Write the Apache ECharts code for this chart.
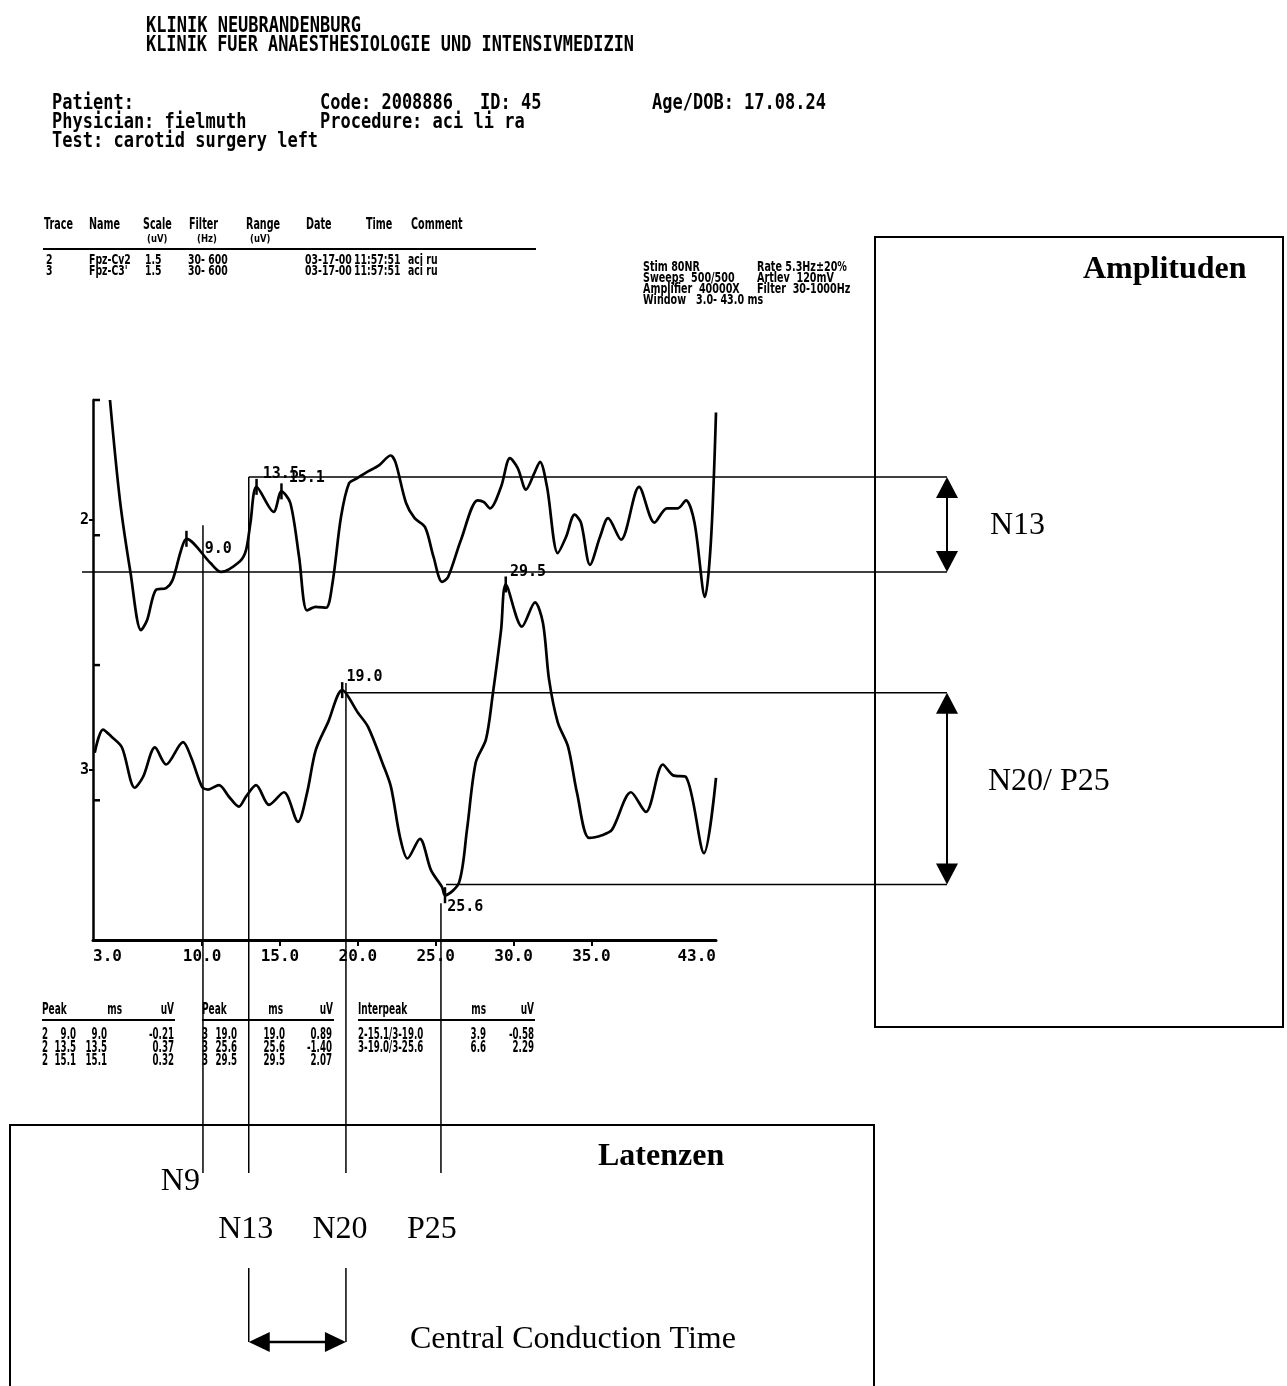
<!DOCTYPE html>
<html>
<head>
<meta charset="utf-8">
<script src="https://cdn.jsdelivr.net/npm/echarts@6/dist/echarts.min.js"></script>
<style>
  html, body { margin: 0; padding: 0; background: #fff; }
  #c { width: 1287px; height: 1386px; }
</style>
</head>
<body>
<div id="c"></div>
<script>
// ---- SEP traces (latency in ms, amplitude in uV relative to trace baseline) ----
const trace2Ms = [4.09, 4.73, 5.41, 6.08, 6.47, 7.04, 7.69, 8.11, 8.65, 9.0, 10.54, 11.22, 12.44, 12.82, 13.11, 13.5, 14.6, 15.1, 15.67, 16.23, 16.74, 17.3, 17.96, 18.38, 18.92, 19.44, 20.0, 20.53, 21.36, 22.11, 22.43, 23.1, 23.65, 24.32, 24.86, 25.41, 25.79, 26.63, 27.7, 28.1, 28.49, 29.2, 29.77, 30.27, 30.8, 31.35, 31.7, 32.15, 32.84, 33.37, 33.92, 34.33, 34.91, 35.55, 36.07, 36.9, 38.06, 39.05, 39.85, 40.54, 41.07, 41.62, 42.29, 42.68, 43.0];
const trace2Uv = [1.34, 0.22, -0.59, -1.23, -1.12, -0.78, -0.76, -0.67, -0.34, -0.21, -0.48, -0.58, -0.46, -0.34, -0.03, 0.37, 0.09, 0.32, 0.19, -0.41, -1.01, -0.97, -0.98, -0.70, 0.03, 0.41, 0.47, 0.53, 0.61, 0.72, 0.64, 0.19, 0.02, -0.08, -0.41, -0.69, -0.64, -0.22, 0.22, 0.20, 0.13, 0.37, 0.69, 0.58, 0.34, 0.53, 0.65, 0.37, -0.37, -0.19, 0.06, -0.03, -0.50, -0.19, 0.02, -0.22, 0.37, -0.03, 0.13, 0.13, 0.22, -0.03, -0.86, -0.22, 1.20];

const trace3Ms = [3.11, 3.64, 4.19, 4.86, 5.68, 6.21, 6.98, 7.69, 8.78, 9.32, 10.0, 10.38, 11.09, 11.73, 12.37, 12.82, 13.47, 14.3, 15.26, 16.16, 16.74, 17.3, 18.09, 19.0, 20.0, 20.66, 21.62, 22.13, 22.71, 23.19, 23.99, 24.7, 25.41, 25.6, 26.5, 27.01, 27.57, 28.23, 28.65, 29.2, 29.5, 30.54, 31.38, 31.89, 32.28, 32.84, 33.5, 34.08, 34.85, 35.68, 36.32, 37.54, 38.5, 39.59, 40.23, 41.07, 42.23, 43.0];
const trace3Uv = [0.19, 0.45, 0.37, 0.25, -0.20, -0.08, 0.25, 0.06, 0.31, 0.13, -0.19, -0.22, -0.17, -0.30, -0.41, -0.30, -0.17, -0.39, -0.25, -0.58, -0.26, 0.22, 0.53, 0.89, 0.64, 0.48, 0.06, -0.19, -0.75, -0.99, -0.77, -1.12, -1.31, -1.40, -1.26, -0.67, 0.08, 0.34, 0.82, 1.56, 2.07, 1.60, 1.87, 1.64, 1.01, 0.53, 0.26, -0.26, -0.76, -0.73, -0.67, -0.25, -0.47, 0.06, -0.06, -0.08, -0.93, -0.09];

// ---- marked peaks ----
const peakTrace = [2, 2, 2, 3, 3, 3];
const peakMs    = [9.0, 13.5, 15.1, 19.0, 25.6, 29.5];
const peakUv    = [-0.21, 0.37, 0.32, 0.89, -1.40, 2.07];

// ---- interpeak results ----
const interpeakNames = ['2-15.1/3-19.0', '3-19.0/3-25.6'];
const interpeakMs    = [3.9, 6.6];
const interpeakUv    = [-0.58, 2.29];

// ---- axis ticks ----
const xTickLabels = [3.0, 10.0, 15.0, 20.0, 25.0, 30.0, 35.0, 43.0];
const xTickMarks  = [10.0, 15.0, 20.0, 25.0, 30.0, 35.0];
const scaleMarks2 = [1.34, -0.17];   // 1.5 uV scale marks, trace 2
const scaleMarks3 = [1.17, -0.34];   // 1.5 uV scale marks, trace 3

// ---- hand annotations ----
const latencyNames = ['N9', 'N13', 'N20', 'P25'];
const latencyMs    = [10.06, 13.0, 19.24, 25.34];
const latencyTrace = [2, 2, 3, 3];
const latencyTopUv = [-0.06, 0.48, 0.97, -1.49];
const bandNames    = ['N13', 'N20/ P25'];
const bandTrace    = [2, 3];
const bandTopUv    = [0.48, 0.86];
const bandBottomUv = [-0.58, -1.28];
const bandTopMs    = [13.0, 19.24];
const bandBottomMs = [null, 25.67];

// ---- record header ----
const trHeader = ['Trace', 'Name', 'Scale', 'Filter', 'Range', 'Date', 'Time', 'Comment'];
const trUnits  = ['', '', '(uV)', '(Hz)', '(uV)', '', '', ''];
const trRows = [
  ['2', 'Fpz-Cv2', '1.5', '30- 600', '', '03-17-00', '11:57:51', 'aci ru'],
  ['3', "Fpz-C3'", '1.5', '30- 600', '', '03-17-00', '11:57:51', 'aci ru']
];
const stimLeft  = ['Stim 80NR', 'Sweeps  500/500', 'Amplifier  40000X', 'Window   3.0- 43.0 ms'];
const stimRight = ['Rate 5.3Hz\u00b120%', 'Artlev  120mV', 'Filter  30-1000Hz', ''];

const INK = '#000';
const MONO = "'DejaVu Sans Mono', 'Liberation Mono', monospace";
const SANS = "'DejaVu Sans', 'Liberation Sans', sans-serif";
const SERIF = "'Liberation Serif', 'DejaVu Serif', serif";

const chart = echarts.init(document.getElementById('c'), null, { renderer: 'canvas' });

const zip = (a, b) => a.map((v, i) => [v, b[i]]);

// label placement for each marked peak (relative to its marker)
const peakLabelOffset = [[12, 10], [0, -13], [1, -13], [-2, -13], [-4, 12], [-2, -12]];

function peakSeries(trace, axis) {
  const items = [];
  peakMs.forEach((ms, i) => {
    if (peakTrace[i] !== trace) return;
    items.push({ value: [ms, peakUv[i]], label: { offset: peakLabelOffset[i] } });
  });
  return {
    type: 'scatter', yAxisIndex: axis, data: items, z: 4,
    symbol: 'rect', symbolSize: [2.5, 16],
    itemStyle: { color: INK, opacity: 1 },
    label: {
      show: true, position: 'right', distance: 5, color: INK, opacity: 1,
      textBorderWidth: 0, fontFamily: MONO, fontWeight: 'bold', fontSize: 15,
      formatter: p => p.value[0].toFixed(1)
    },
    emphasis: { disabled: true },
    clip: false, silent: true
  };
}

function yAxisFor(min, max, name) {
  return {
    type: 'value', position: 'left', min, max, offset: 0,
    splitLine: { show: false },
    axisLine: { show: name === '2', onZero: false, lineStyle: { color: INK, width: 2.5 } },
    axisTick: { show: true, customValues: [0], length: 4, lineStyle: { color: INK, width: 2 } },
    axisLabel: {
      show: true, customValues: [0], margin: 4, formatter: () => name,
      color: INK, fontFamily: MONO, fontWeight: 'bold', fontSize: 15
    }
  };
}

const option = {
  animation: false,
  backgroundColor: '#fff',
  grid: { left: 93, top: 400, width: 623, height: 540, containLabel: false },
  xAxis: {
    type: 'value', min: 3, max: 43,
    splitLine: { show: false },
    axisLine: { onZero: false, lineStyle: { color: INK, width: 3 } },
    axisTick: { show: true, customValues: xTickMarks, length: 6, lineStyle: { color: INK, width: 2 } },
    axisLabel: {
      customValues: xTickLabels, margin: 9,
      formatter: v => Number(v).toFixed(1),
      alignMinLabel: 'left', alignMaxLabel: 'right',
      color: INK, fontFamily: MONO, fontWeight: 'bold', fontSize: 16
    }
  },
  yAxis: [yAxisFor(-4.69, 1.34, '2'), yAxisFor(-1.90, 4.13, '3')],
  series: [
    { type: 'line', yAxisIndex: 0, data: zip(trace2Ms, trace2Uv), smooth: 0.3, showSymbol: false,
      symbol: 'none', clip: false, lineStyle: { color: INK, width: 2.7 }, silent: true, z: 3 },
    { type: 'line', yAxisIndex: 1, data: zip(trace3Ms, trace3Uv), smooth: 0.3, showSymbol: false,
      symbol: 'none', clip: false, lineStyle: { color: INK, width: 2.7 }, silent: true, z: 3 },
    peakSeries(2, 0),
    peakSeries(3, 1)
  ]
};
chart.setOption(option);

// ---------- text and annotation layer ----------
const mctx = document.createElement('canvas').getContext('2d');
function txt(str, x, y, o) {
  o = o || {};
  const font = (o.weight || 'bold') + ' ' + (o.size || 16) + 'px ' + (o.family || MONO);
  mctx.font = font;
  const w = mctx.measureText(str).width || 1;
  const sx = o.width ? o.width / w : (o.sx || 1);
  const align = o.align || 'left';
  return {
    type: 'text', x, y, scaleX: sx, scaleY: o.sy || 1, z: 20, silent: true,
    style: { text: str, font, fill: INK, align, verticalAlign: 'middle',
             textAlign: align, textVerticalAlign: 'middle' }
  };
}
function seg(x1, y1, x2, y2, w) {
  return { type: 'line', z: 15, silent: true, shape: { x1, y1, x2, y2 },
           style: { stroke: INK, lineWidth: w || 1.5 } };
}
function tri(points) {
  return { type: 'polygon', z: 16, silent: true, shape: { points }, style: { fill: INK } };
}

const px = ms => chart.convertToPixel({ xAxisIndex: 0 }, ms);
const py = (trace, uv) => chart.convertToPixel({ yAxisIndex: trace === 2 ? 0 : 1 }, uv);

const g = [];

// institution header
g.push(txt('KLINIK NEUBRANDENBURG', 146, 27, { size: 17, sy: 1.2 }));
g.push(txt('KLINIK FUER ANAESTHESIOLOGIE UND INTENSIVMEDIZIN', 146, 46, { size: 17, width: 488, sy: 1.2 }));

// patient block
g.push(txt('Patient:', 52, 104, { size: 17, sy: 1.2 }));
g.push(txt('Physician: fielmuth', 52, 123, { size: 17, sy: 1.2 }));
g.push(txt('Test: carotid surgery left', 52, 142, { size: 17, sy: 1.2 }));
g.push(txt('Code: 2008886', 320, 104, { size: 17, sy: 1.2 }));
g.push(txt('ID: 45', 480, 104, { size: 17, sy: 1.2 }));
g.push(txt('Procedure: aci li ra', 320, 123, { size: 17, sy: 1.2 }));
g.push(txt('Age/DOB: 17.08.24', 652, 104, { size: 17, sy: 1.2 }));

// recording table
const trColX = [44, 89, 143, 189, 246, 306, 366, 411];
trHeader.forEach((h, i) => g.push(txt(h, trColX[i], 225, { family: SANS, size: 12, sx: 0.8, sy: 1.3 })));
const unitX = [0, 0, 147, 197, 250, 0, 0, 0];
trUnits.forEach((u, i) => { if (u) g.push(txt(u, unitX[i], 239, { family: SANS, size: 10, sx: 0.85, sy: 1.1 })); });
g.push(seg(43, 249, 536, 249, 2));
const rowX = [46, 89, 145, 188, 0, 305, 354, 408];
trRows.forEach((r, j) => {
  r.forEach((cell, i) => {
    if (cell) g.push(txt(cell, rowX[i], 261 + j * 11, { family: SANS, size: 11, sx: 0.85, sy: 1.2 }));
  });
});

// stimulation settings
stimLeft.forEach((s, i) => g.push(txt(s, 643, 268 + i * 11, { family: SANS, size: 12, sx: 0.8, sy: 1.1 })));
stimRight.forEach((s, i) => { if (s) g.push(txt(s, 757, 268 + i * 11, { family: SANS, size: 12, sx: 0.8, sy: 1.1 })); });

// scale marks on the common amplitude axis
const axX = px(3);
scaleMarks2.forEach(v => g.push(seg(axX, py(2, v), axX + 7, py(2, v), 2.5)));
scaleMarks3.forEach(v => g.push(seg(axX, py(3, v), axX + 7, py(3, v), 2.5)));

// peak results table
const fmt = v => (v < 0 ? '-' : '') + Math.abs(v).toFixed(2);
const T = { family: SANS, size: 14, sx: 0.62, sy: 1.1 };
[['Peak', 42, 'left'], ['ms', 122, 'right'], ['uV', 174, 'right'],
 ['Peak', 202, 'left'], ['ms', 283, 'right'], ['uV', 333, 'right'],
 ['Interpeak', 358, 'left'], ['ms', 486, 'right'], ['uV', 534, 'right']]
  .forEach(h => g.push(txt(h[0], h[1], 1010, { family: SANS, size: 12, sx: 0.75, sy: 1.3, align: h[2] })));
g.push(seg(42, 1020, 175, 1020, 2));
g.push(seg(202, 1020, 334, 1020, 2));
g.push(seg(358, 1020, 535, 1020, 2));
const colStart = { 2: [42, 76, 107, 174], 3: [202, 237, 285, 332] };
const rowCount = { 2: 0, 3: 0 };
peakMs.forEach((ms, i) => {
  const t = peakTrace[i];
  const c = colStart[t];
  const y = 1035 + rowCount[t]++ * 13;
  g.push(txt(String(t), c[0], y, T));
  g.push(txt(ms.toFixed(1), c[1], y, Object.assign({ align: 'right' }, T)));
  g.push(txt(ms.toFixed(1), c[2], y, Object.assign({ align: 'right' }, T)));
  g.push(txt(fmt(peakUv[i]), c[3], y, Object.assign({ align: 'right' }, T)));
});
interpeakNames.forEach((n, i) => {
  const y = 1035 + i * 13;
  g.push(txt(n, 358, y, T));
  g.push(txt(interpeakMs[i].toFixed(1), 486, y, Object.assign({ align: 'right' }, T)));
  g.push(txt(fmt(interpeakUv[i]), 534, y, Object.assign({ align: 'right' }, T)));
});

// latency guides down into the "Latenzen" box
const guideBottom = 1173;
const lx = latencyMs.map(px);
latencyMs.forEach((ms, i) => {
  g.push(seg(lx[i], py(latencyTrace[i], latencyTopUv[i]), lx[i], guideBottom, 1.5));
});

// amplitude bands into the "Amplituden" box
const arrowX = 947;
bandNames.forEach((n, i) => {
  const t = bandTrace[i];
  const yTop = py(t, bandTopUv[i]);
  const yBot = py(t, bandBottomUv[i]);
  const xTop = px(bandTopMs[i]);
  const xBot = bandBottomMs[i] === null ? axX - 11 : px(bandBottomMs[i]);
  g.push(seg(xTop, yTop, arrowX, yTop, 1.5));
  g.push(seg(xBot, yBot, arrowX, yBot, 1.5));
  g.push(seg(arrowX, yTop + 6, arrowX, yBot - 6, 2));
  g.push(tri([[arrowX, yTop], [arrowX - 11, yTop + 21], [arrowX + 11, yTop + 21]]));
  g.push(tri([[arrowX, yBot], [arrowX - 11, yBot - 21], [arrowX + 11, yBot - 21]]));
});

// boxes
g.push({ type: 'rect', z: 14, silent: true, shape: { x: 875, y: 237, width: 408, height: 790 },
         style: { fill: null, stroke: INK, lineWidth: 2 } });
g.push({ type: 'polyline', z: 14, silent: true,
         shape: { points: [[10, 1400], [10, 1125], [874, 1125], [874, 1400]] },
         style: { fill: null, stroke: INK, lineWidth: 2 } });

// box captions
g.push(txt('Amplituden', 1083, 270, { family: SERIF, size: 32 }));
g.push(txt(bandNames[0], 990, 526, { family: SERIF, size: 32, weight: 'normal' }));
g.push(txt(bandNames[1], 988, 782, { family: SERIF, size: 32, weight: 'normal' }));
g.push(txt('Latenzen', 598, 1157, { family: SERIF, size: 32 }));
g.push(txt(latencyNames[0], lx[0] - 3, 1182, { family: SERIF, size: 32, weight: 'normal', align: 'right' }));
[1, 2, 3].forEach((k, j) => {
  const shift = [-3, -6, -9][j];
  g.push(txt(latencyNames[k], lx[k] + shift, 1230, { family: SERIF, size: 32, weight: 'normal', align: 'center' }));
});

// central conduction time: N13 -> N20
const cctY = 1342;
const a = lx[1], b = lx[2];
g.push(seg(a, 1268, a, cctY, 1.5));
g.push(seg(b, 1268, b, cctY, 1.5));
g.push(seg(a + 10, cctY, b - 10, cctY, 2.5));
g.push(tri([[a, cctY], [a + 21, cctY - 10], [a + 21, cctY + 10]]));
g.push(tri([[b, cctY], [b - 21, cctY - 10], [b - 21, cctY + 10]]));
g.push(txt('Central Conduction Time', 410, 1340, { family: SERIF, size: 32, weight: 'normal' }));

chart.setOption({ graphic: g });
</script>
</body>
</html>
